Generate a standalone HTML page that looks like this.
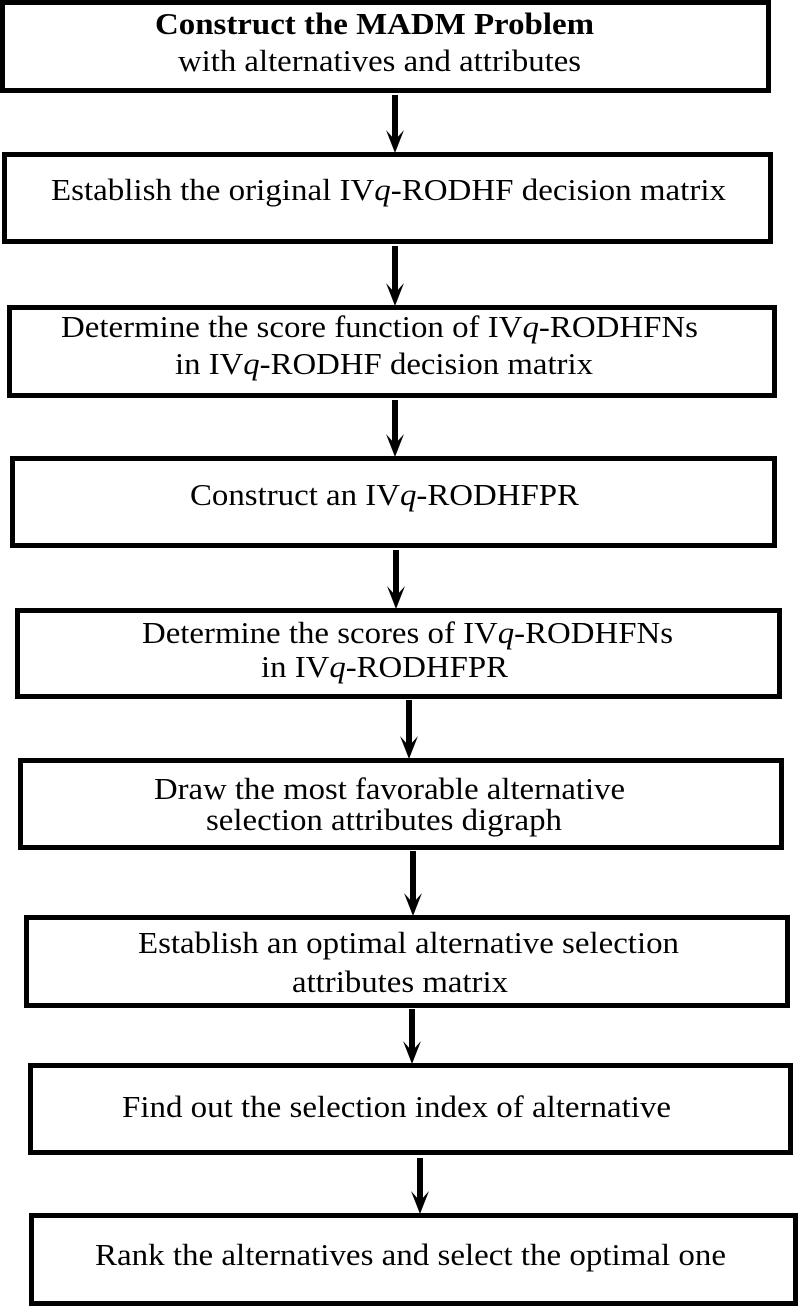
<!DOCTYPE html>
<html><head><meta charset="utf-8"><style>html,body{margin:0;padding:0;background:#fff}svg{display:block}svg text{font-family:"Liberation Serif","Times New Roman",serif;font-size:31px}</style></head>
<body>
<svg width="798" height="1306" viewBox="0 0 798 1306" xmlns="http://www.w3.org/2000/svg" fill="#000">
<g fill="none" stroke="#000" stroke-width="5">
<rect x="2.5" y="2.5" width="766" height="88"/>
<rect x="4.5" y="154.5" width="766" height="87"/>
<rect x="9.5" y="307.5" width="765" height="88"/>
<rect x="12.5" y="458.5" width="762" height="87"/>
<rect x="17.5" y="610.5" width="762" height="86"/>
<rect x="20.5" y="760.5" width="761" height="87"/>
<rect x="26.5" y="917.5" width="761" height="88"/>
<rect x="30.5" y="1065.5" width="760" height="87"/>
<rect x="31.5" y="1215.5" width="764" height="88"/>
</g>
<g stroke="#000" stroke-width="6">
<line x1="395" y1="95" x2="395" y2="140"/>
<line x1="395" y1="246" x2="395" y2="293"/>
<line x1="395" y1="400" x2="395" y2="444"/>
<line x1="396" y1="550" x2="396" y2="596"/>
<line x1="409" y1="700" x2="409" y2="746"/>
<line x1="413" y1="851" x2="413" y2="903"/>
<line x1="412" y1="1009" x2="412" y2="1051"/>
<line x1="420" y1="1158" x2="420" y2="1201"/>
</g>
<g>
<polygon points="395,153 386,130 395,140 404,130"/>
<polygon points="395,306 386,283 395,293 404,283"/>
<polygon points="395,457 386,434 395,444 404,434"/>
<polygon points="396,609 387,586 396,596 405,586"/>
<polygon points="409,759 400,736 409,746 418,736"/>
<polygon points="413,916 404,893 413,903 422,893"/>
<polygon points="412,1064 403,1041 412,1051 421,1041"/>
<polygon points="420,1214 411,1191 420,1201 429,1191"/>
</g>
<text x="155" y="34" font-weight="bold" textLength="439" lengthAdjust="spacingAndGlyphs">Construct the MADM Problem</text>
<text x="178" y="71" textLength="403" lengthAdjust="spacingAndGlyphs">with alternatives and attributes</text>
<text x="51" y="200" textLength="675" lengthAdjust="spacingAndGlyphs">Establish the original IV<tspan font-style="italic">q</tspan>-RODHF decision matrix</text>
<text x="61" y="337" textLength="637" lengthAdjust="spacingAndGlyphs">Determine the score function of IV<tspan font-style="italic">q</tspan>-RODHFNs</text>
<text x="175" y="374" textLength="418" lengthAdjust="spacingAndGlyphs">in IV<tspan font-style="italic">q</tspan>-RODHF decision matrix</text>
<text x="190" y="505" textLength="389" lengthAdjust="spacingAndGlyphs">Construct an IV<tspan font-style="italic">q</tspan>-RODHFPR</text>
<text x="142" y="643" textLength="531" lengthAdjust="spacingAndGlyphs">Determine the scores of IV<tspan font-style="italic">q</tspan>-RODHFNs</text>
<text x="261" y="677" textLength="247" lengthAdjust="spacingAndGlyphs">in IV<tspan font-style="italic">q</tspan>-RODHFPR</text>
<text x="154" y="799" textLength="471" lengthAdjust="spacingAndGlyphs">Draw the most favorable alternative</text>
<text x="206" y="830" textLength="356" lengthAdjust="spacingAndGlyphs">selection attributes digraph</text>
<text x="138" y="953" textLength="541" lengthAdjust="spacingAndGlyphs">Establish an optimal alternative selection</text>
<text x="292" y="992" textLength="216" lengthAdjust="spacingAndGlyphs">attributes matrix</text>
<text x="122" y="1117" textLength="549" lengthAdjust="spacingAndGlyphs">Find out the selection index of alternative</text>
<text x="95" y="1265" textLength="631" lengthAdjust="spacingAndGlyphs">Rank the alternatives and select the optimal one</text>
</svg>
</body></html>
